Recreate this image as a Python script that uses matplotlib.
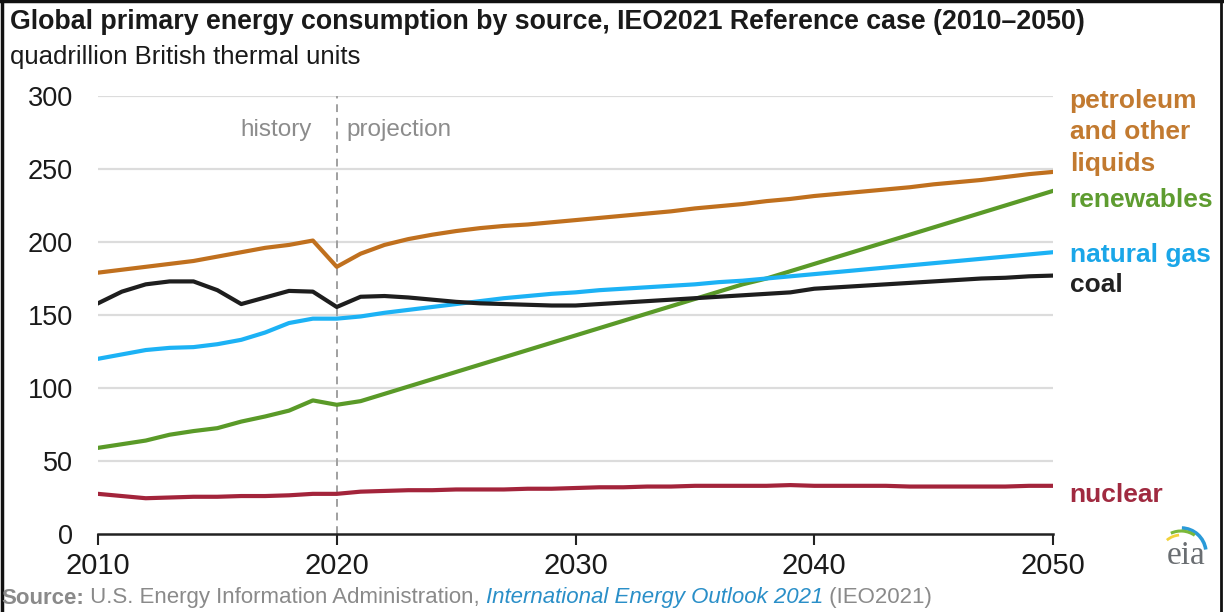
import matplotlib
matplotlib.use("Agg")
import matplotlib.pyplot as plt
from matplotlib.patches import Arc
from matplotlib.lines import Line2D

plt.rcParams['font.family'] = ['Liberation Sans', 'DejaVu Sans']

years = list(range(2010, 2051))

petroleum = [179, 181, 183, 185, 187, 190, 193, 196, 198, 201,
             183, 192, 198, 202, 205, 207.5, 209.5, 211, 212, 213.5,
             215, 216.5, 218, 219.5, 221, 223, 224.5, 226, 228, 229.5,
             231.5, 233, 234.5, 236, 237.5, 239.5, 241, 242.5, 244.5, 246.5, 248]
renewables = [59, 61.5, 64, 68, 70.5, 72.5, 77, 80.5, 84.5, 91.5,
              88.5, 91, 96, 101, 106, 111, 116, 121, 126, 131,
              136, 141, 146, 151, 156, 161, 166, 171, 175, 180,
              185, 190, 195, 200, 205, 210, 215, 220, 225, 230, 235]
natural_gas = [120, 123, 126, 127.5, 128, 130, 133, 138, 144.5, 147.5,
               147.5, 149, 151.5, 153.5, 155.5, 157.5, 159.5, 161.5, 163, 164.5,
               165.5, 167, 168, 169, 170, 171, 172.5, 173.5, 175, 176.5,
               178, 179.5, 181, 182.5, 184, 185.5, 187, 188.5, 190, 191.5, 193]
coal = [158, 166, 171, 173, 173, 167, 157.5, 162, 166.5, 166,
        155.5, 162.5, 163, 162, 160.5, 159, 158, 157.5, 157, 156.5,
        156.5, 157.5, 158.5, 159.5, 160.5, 161.5, 162.5, 163.5, 164.5, 165.5,
        168, 169, 170, 171, 172, 173, 174, 175, 175.5, 176.5, 177]
nuclear = [27.5, 26, 24.5, 25, 25.5, 25.5, 26, 26, 26.5, 27.5,
           27.5, 29, 29.5, 30, 30, 30.5, 30.5, 30.5, 31, 31,
           31.5, 32, 32, 32.5, 32.5, 33, 33, 33, 33, 33.5,
           33, 33, 33, 33, 32.5, 32.5, 32.5, 32.5, 32.5, 33, 33]

series_names = ["petroleum\nand other\nliquids", "renewables", "natural gas", "coal", "nuclear"]
series_values = [petroleum, renewables, natural_gas, coal, nuclear]
line_colors = ["#c0701e", "#5a9a28", "#1cb2f5", "#1e1e1e", "#a3243b"]
label_colors = ["#c27a30", "#5e9c30", "#1aa6e8", "#222222", "#a02a40"]
label_y = [275, 229, 191, 170.5, 27]

yticks = [0, 50, 100, 150, 200, 250, 300]
xticks = [2010, 2020, 2030, 2040, 2050]

fig = plt.figure(figsize=(12.24, 6.12), dpi=100)
ax = fig.add_axes([98/1224, 1-534/612, (1053-98)/1224, (534-96)/612])

for yt in yticks[1:]:
    ax.axhline(yt, color="#dcdcdc", lw=1.6, zorder=0)

for vals, c in zip(series_values, line_colors):
    ax.plot(years, vals, color=c, lw=3.0, solid_joinstyle='round', zorder=3)

ax.axvline(2020, color="#a0a0a0", lw=1.4, ls=(0, (4, 3)), zorder=2)
ax.text(2018.95, 277, "history", ha="right", va="center", color="#8c8c8c", fontsize=17.5)
ax.text(2020.4, 277, "projection", ha="left", va="center", color="#8c8c8c", fontsize=17.5)

ax.set_xlim(2010, 2050)
ax.set_ylim(0, 300)
ax.set_xticks(xticks)
ax.set_yticks(yticks)
ax.set_xticklabels([str(x) for x in xticks], fontsize=21, color="#1a1a1a")
ax.set_yticklabels([str(y) for y in yticks], fontsize=19.5, color="#1a1a1a")
for s in ["top", "right", "left"]:
    ax.spines[s].set_visible(False)
ax.spines["bottom"].set_color("#222222")
ax.spines["bottom"].set_linewidth(1.8)
ax.tick_params(axis="y", length=0, pad=18)
ax.tick_params(axis="x", length=8, width=1.5, color="#222222", pad=5, direction="out")

for name, c, y in zip(series_names, label_colors, label_y):
    ax.annotate(name, xy=(2050, y), xytext=(12, 0), textcoords="offset points",
                ha="left", va="center", color=c, fontsize=19, fontweight="bold",
                linespacing=1.38, annotation_clip=False)

fig.text(10/1224, 1-22/612, "Global primary energy consumption by source, IEO2021 Reference case (2010\u20132050)",
         fontsize=19.3, fontweight="bold", color="#1a1a1a", ha="left", va="center")
fig.text(10/1224, 1-57/612, "quadrillion British thermal units",
         fontsize=18.5, color="#1a1a1a", ha="left", va="center")

# source line
src_y = 1 - 598/612
t1 = fig.text(0.001, src_y, "Source:", fontsize=16, fontweight="bold", color="#8a8a8a", ha="left", va="center")
fig.canvas.draw()
r = fig.canvas.get_renderer()
bb = t1.get_window_extent(r)
x = bb.x1 / fig.bbox.width
t2 = fig.text(x, src_y, " U.S. Energy Information Administration, ", fontsize=16, color="#8a8a8a", ha="left", va="center")
bb = t2.get_window_extent(r)
x = bb.x1 / fig.bbox.width
t3 = fig.text(x, src_y, "International Energy Outlook 2021", fontsize=16, style="italic", color="#2a8fc8", ha="left", va="center")
bb = t3.get_window_extent(r)
x = bb.x1 / fig.bbox.width
fig.text(x, src_y, " (IEO2021)", fontsize=16, color="#8a8a8a", ha="left", va="center")

# eia logo
fig.text(1186/1224, 1-556/612, "eia", fontsize=24, family="Liberation Serif", color="#6a6e72", ha="center", va="center")
logo_ax = fig.add_axes([1160/1224, 1-570/612, 50/1224, 50/612])
logo_ax.set_xlim(0, 50)
logo_ax.set_ylim(0, 50)
logo_ax.axis("off")
logo_ax.add_patch(Arc((21, 17), 50, 50, theta1=8, theta2=88, color="#2a9ad8", lw=2.6))
logo_ax.add_patch(Arc((21, 15), 48, 48, theta1=55, theta2=115, color="#7ab83a", lw=2.2))
logo_ax.add_patch(Arc((21, 13), 44, 44, theta1=95, theta2=130, color="#f2d23a", lw=2.0))

# frame
fig.add_artist(Line2D([0.002, 0.002], [0, 1], transform=fig.transFigure, color="#111111", lw=2.5))
fig.add_artist(Line2D([0, 1], [0.998, 0.998], transform=fig.transFigure, color="#111111", lw=2.5))
fig.add_artist(Line2D([0.9975, 0.9975], [0, 1], transform=fig.transFigure, color="#111111", lw=2.0))

fig.savefig("out.png", dpi=100)
